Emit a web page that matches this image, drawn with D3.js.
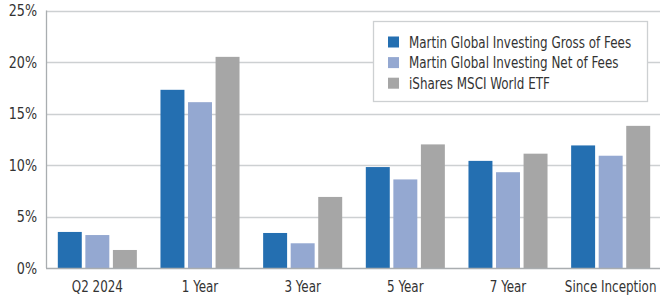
<!DOCTYPE html>
<html>
<head>
<meta charset="utf-8">
<script src="https://cdn.jsdelivr.net/npm/d3@7"></script>
<style>
  html, body { margin: 0; padding: 0; background: #fff; }
  #chart { width: 660px; height: 297px; }
</style>
</head>
<body>
<div id="chart"></div>
<script>
// Chart data
const categories = ['Q2 2024', '1 Year', '3 Year', '5 Year', '7 Year', 'Since Inception'];
const seriesNames = [
    'Martin Global Investing Gross of Fees',
    'Martin Global Investing Net of Fees',
    'iShares MSCI World ETF'
];
const grossValues = [3.5, 17.3, 3.4, 9.8, 10.4, 11.9];
const netValues = [3.2, 16.1, 2.4, 8.6, 9.3, 10.9];
const etfValues = [1.75, 20.5, 6.9, 12.0, 11.1, 13.8];
const yTicks = [0, 5, 10, 15, 20, 25];
const colors = ['#246fb1', '#94a8d1', '#a6a6a6'];

const allSeries = [grossValues, netValues, etfValues];
const font = '"DejaVu Sans Condensed", "Liberation Sans Narrow", sans-serif';
const squeeze = 0.885; // narrow the text, the original uses a condensed face

function drawChart() {
    const width = 660;
    const height = 297;
    const margin = { top: 10.5, right: -2, bottom: 29, left: 46 };

    const svg = d3.select('#chart')
        .append('svg')
        .attr('width', width)
        .attr('height', height)
        .style('font-family', font);

    // Scales
    const x0 = d3.scaleBand()
        .domain(categories)
        .range([margin.left, width - margin.right])
        .paddingInner(0.23)
        .paddingOuter(0.115);

    const x1 = d3.scaleBand()
        .domain(d3.range(seriesNames.length))
        .range([0, x0.bandwidth()])
        .paddingInner(0.13);

    const y = d3.scaleLinear()
        .domain([0, 25])
        .range([height - margin.bottom, margin.top]);

    // Gridlines
    svg.append('g')
        .selectAll('line')
        .data(yTicks.slice(1))
        .join('line')
        .attr('x1', margin.left)
        .attr('x2', width)
        .attr('y1', d => Math.round(y(d)) + 0.5)
        .attr('y2', d => Math.round(y(d)) + 0.5)
        .attr('stroke', '#cdd0d2')
        .attr('stroke-width', 1.3);

    // Y tick labels
    svg.append('g')
        .selectAll('text')
        .data(yTicks)
        .join('text')
        .attr('transform', d => `translate(37,${y(d) + 5.5}) scale(${squeeze},1)`)
        .attr('text-anchor', 'end')
        .attr('font-size', '16px')
        .attr('fill', '#333')
        .text(d => d + '%');

    // Bars
    const groups = svg.append('g')
        .selectAll('g')
        .data(categories)
        .join('g')
        .attr('transform', d => `translate(${x0(d)},0)`);

    groups.selectAll('rect')
        .data((d, i) => allSeries.map((s, k) => ({ k: k, v: s[i] })))
        .join('rect')
        .attr('x', d => x1(d.k))
        .attr('width', x1.bandwidth())
        .attr('y', d => y(d.v))
        .attr('height', d => y(0) - y(d.v))
        .attr('fill', d => colors[d.k]);

    // Axis lines
    svg.append('line')
        .attr('x1', margin.left + 0.5)
        .attr('x2', margin.left + 0.5)
        .attr('y1', margin.top)
        .attr('y2', y(0))
        .attr('stroke', '#a9adb0')
        .attr('stroke-width', 1.3);

    svg.append('line')
        .attr('x1', margin.left)
        .attr('x2', width)
        .attr('y1', y(0) + 0.5)
        .attr('y2', y(0) + 0.5)
        .attr('stroke', '#a9adb0')
        .attr('stroke-width', 1.5);

    // X labels
    svg.append('g')
        .selectAll('text')
        .data(categories)
        .join('text')
        .attr('transform', d => `translate(${x0(d) + x0.bandwidth() / 2},291.5) scale(${squeeze},1)`)
        .attr('text-anchor', 'middle')
        .attr('font-size', '15px')
        .attr('fill', '#333')
        .text(d => d);

    // Legend
    const legend = svg.append('g');
    legend.append('rect')
        .attr('x', 373.5)
        .attr('y', 21.5)
        .attr('width', 274)
        .attr('height', 80)
        .attr('fill', '#fff')
        .attr('stroke', '#cdd0d2')
        .attr('stroke-width', 1.3);

    const items = legend.selectAll('g')
        .data(seriesNames)
        .join('g')
        .attr('transform', (d, i) => `translate(388,${42 + i * 20.6})`);

    items.append('rect')
        .attr('x', 0)
        .attr('y', -5.5)
        .attr('width', 11)
        .attr('height', 11)
        .attr('fill', (d, i) => colors[i]);

    items.append('text')
        .attr('transform', `translate(21,5.5) scale(${squeeze},1)`)
        .attr('font-size', '15px')
        .attr('fill', '#333')
        .text(d => d);
}

drawChart();
</script>
</body>
</html>
